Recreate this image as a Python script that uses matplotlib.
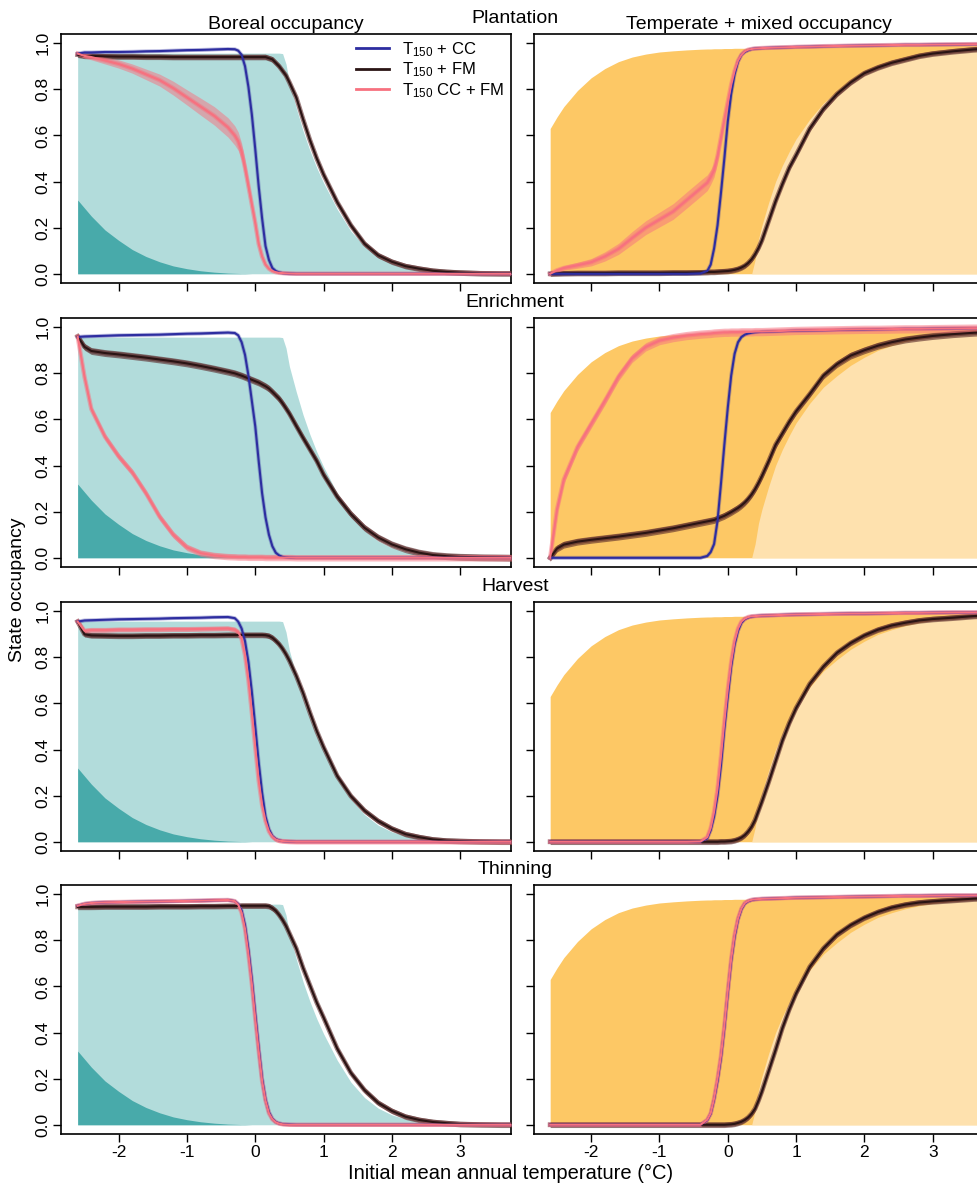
import numpy as np
import matplotlib
matplotlib.use("Agg")
import matplotlib.pyplot as plt
from matplotlib.lines import Line2D

plt.rcParams['font.family'] = ['Liberation Sans', 'DejaVu Sans']
plt.rcParams['mathtext.default'] = 'regular'

# ---------------- data ----------------
temperature = [-2.6, -2.5, -2.4, -2.2, -2.0, -1.8, -1.6, -1.4, -1.2, -1.0, -0.8, -0.6, -0.4,
               -0.3, -0.25, -0.2, -0.15, -0.1, -0.05, 0.0, 0.05, 0.1, 0.15, 0.2, 0.25, 0.3, 0.35, 0.4, 0.45, 0.5,
               0.6, 0.7, 0.8, 0.9, 1.0, 1.2, 1.4, 1.6, 1.8, 2.0, 2.2, 2.4, 2.6, 2.8, 3.0, 3.3, 3.6, 3.8]

managements = ['Plantation', 'Enrichment', 'Harvest', 'Thinning']
column_titles = ['Boreal occupancy', 'Temperate + mixed occupancy']
legend_labels = [r'T$_{150}$ + CC', r'T$_{150}$ + FM', r'T$_{150}$ CC + FM']
x_ticks = [-2, -1, 0, 1, 2, 3]
y_ticks = [0.0, 0.2, 0.4, 0.6, 0.8, 1.0]

# background occupancy (no management)
boreal_total = [
    0.957, 0.957, 0.957, 0.957, 0.957, 0.957, 0.957, 0.957, 0.957, 0.957, 0.957, 0.957, 0.957,
    0.957, 0.957, 0.957, 0.957, 0.957, 0.957, 0.957, 0.957, 0.957, 0.957, 0.957, 0.957, 0.957, 0.957, 0.955, 0.91, 0.83,
    0.72, 0.62, 0.535, 0.46, 0.395, 0.28, 0.185, 0.118, 0.072, 0.043, 0.025, 0.014, 0.008, 0.004, 0.002, 0.001, 0.0, 0.0]
boreal_dark = [
    0.32, 0.285, 0.25, 0.19, 0.145, 0.105, 0.075, 0.052, 0.034, 0.022, 0.013, 0.007, 0.003,
    0.002, 0.0015, 0.001, 0.001, 0.0005, 0.0, 0.0, 0.0, 0.0, 0.0, 0.0, 0.0, 0.0, 0.0, 0.0, 0.0, 0.0,
    0.0, 0.0, 0.0, 0.0, 0.0, 0.0, 0.0, 0.0, 0.0, 0.0, 0.0, 0.0, 0.0, 0.0, 0.0, 0.0, 0.0, 0.0]
temperate_total = [
    0.63, 0.68, 0.725, 0.795, 0.85, 0.89, 0.92, 0.94, 0.953, 0.962, 0.967, 0.971, 0.974,
    0.975, 0.975, 0.976, 0.976, 0.976, 0.977, 0.977, 0.977, 0.978, 0.978, 0.978, 0.978, 0.979, 0.979, 0.979, 0.979, 0.98,
    0.98, 0.981, 0.981, 0.982, 0.982, 0.983, 0.984, 0.985, 0.986, 0.987, 0.988, 0.989, 0.99, 0.99, 0.991, 0.992, 0.993, 0.993]
temperate_only = [
    0.0, 0.0, 0.0, 0.0, 0.0, 0.0, 0.0, 0.0, 0.0, 0.0, 0.0, 0.0, 0.0,
    0.0, 0.0, 0.0, 0.0, 0.0, 0.0, 0.0, 0.0, 0.0, 0.0, 0.0, 0.0, 0.0, 0.0, 0.06, 0.15, 0.21,
    0.31, 0.40, 0.47, 0.53, 0.585, 0.67, 0.74, 0.79, 0.835, 0.87, 0.9, 0.92, 0.937, 0.95, 0.96, 0.97, 0.977, 0.98]

# ---- Plantation ----
plantation_boreal_cc = [
    0.955, 0.96, 0.96, 0.962, 0.962, 0.963, 0.965, 0.966, 0.968, 0.97, 0.971, 0.973, 0.975,
    0.974, 0.968, 0.95, 0.90, 0.81, 0.69, 0.54, 0.38, 0.24, 0.12, 0.06, 0.025, 0.012, 0.006, 0.003, 0.002, 0.001,
    0.0, 0.0, 0.0, 0.0, 0.0, 0.0, 0.0, 0.0, 0.0, 0.0, 0.0, 0.0, 0.0, 0.0, 0.0, 0.0, 0.0, 0.0]
plantation_boreal_fm = [
    0.95, 0.945, 0.945, 0.943, 0.942, 0.942, 0.941, 0.941, 0.94, 0.94, 0.94, 0.94, 0.94,
    0.94, 0.94, 0.94, 0.94, 0.94, 0.94, 0.94, 0.94, 0.94, 0.94, 0.935, 0.93, 0.915, 0.90, 0.88, 0.86, 0.83,
    0.765, 0.67, 0.58, 0.50, 0.43, 0.31, 0.21, 0.13, 0.08, 0.052, 0.033, 0.022, 0.013, 0.008, 0.005, 0.002, 0.001, 0.001]
plantation_boreal_ccfm = [
    0.955, 0.945, 0.94, 0.925, 0.91, 0.89, 0.865, 0.84, 0.805, 0.765, 0.725, 0.685, 0.635,
    0.60, 0.575, 0.53, 0.46, 0.38, 0.30, 0.22, 0.13, 0.075, 0.04, 0.022, 0.012, 0.007, 0.004, 0.003, 0.002, 0.001,
    0.0, 0.0, 0.0, 0.0, 0.0, 0.0, 0.0, 0.0, 0.0, 0.0, 0.0, 0.0, 0.0, 0.0, 0.0, 0.0, 0.0, 0.0]
plantation_temperate_cc = [
    0.0, 0.0, 0.0, 0.0, 0.0, 0.0, 0.0, 0.0, 0.0, 0.0, 0.0, 0.0, 0.002,
    0.012, 0.04, 0.11, 0.21, 0.35, 0.50, 0.66, 0.78, 0.865, 0.92, 0.95, 0.963, 0.97, 0.975, 0.977, 0.978, 0.979,
    0.98, 0.981, 0.982, 0.983, 0.984, 0.985, 0.987, 0.988, 0.989, 0.99, 0.991, 0.992, 0.993, 0.993, 0.994, 0.995, 0.996, 0.996]
plantation_temperate_fm = [
    0.0, 0.001, 0.002, 0.003, 0.003, 0.003, 0.004, 0.004, 0.004, 0.004, 0.005, 0.005, 0.006,
    0.007, 0.008, 0.008, 0.009, 0.01, 0.011, 0.012, 0.014, 0.017, 0.021, 0.027, 0.035, 0.047, 0.063, 0.085, 0.112, 0.145,
    0.23, 0.315, 0.39, 0.46, 0.515, 0.63, 0.715, 0.78, 0.83, 0.87, 0.895, 0.915, 0.93, 0.945, 0.955, 0.965, 0.973, 0.977]
plantation_temperate_ccfm = [
    0.0, 0.015, 0.025, 0.037, 0.05, 0.075, 0.108, 0.155, 0.2, 0.235, 0.27, 0.32, 0.37,
    0.395, 0.42, 0.45, 0.51, 0.59, 0.67, 0.745, 0.82, 0.88, 0.925, 0.95, 0.965, 0.972, 0.975, 0.977, 0.978, 0.979,
    0.98, 0.981, 0.982, 0.983, 0.984, 0.985, 0.987, 0.988, 0.989, 0.99, 0.991, 0.992, 0.993, 0.993, 0.994, 0.995, 0.996, 0.996]

# ---- Enrichment ----
enrichment_boreal_cc = [
    0.958, 0.96, 0.961, 0.963, 0.965, 0.966, 0.967, 0.968, 0.97, 0.972, 0.973, 0.975, 0.977,
    0.975, 0.965, 0.935, 0.88, 0.79, 0.68, 0.57, 0.42, 0.28, 0.175, 0.1, 0.05, 0.022, 0.01, 0.004, 0.002, 0.001,
    0.0, 0.0, 0.0, 0.0, 0.0, 0.0, 0.0, 0.0, 0.0, 0.0, 0.0, 0.0, 0.0, 0.0, 0.0, 0.0, 0.0, 0.0]
enrichment_boreal_fm = [
    0.96, 0.915, 0.897, 0.888, 0.882, 0.875, 0.868, 0.86, 0.852, 0.843, 0.832, 0.82, 0.807,
    0.80, 0.795, 0.79, 0.784, 0.778, 0.772, 0.766, 0.76, 0.752, 0.744, 0.734, 0.72, 0.705, 0.69, 0.67, 0.648, 0.625,
    0.572, 0.52, 0.47, 0.42, 0.36, 0.265, 0.19, 0.13, 0.088, 0.058, 0.037, 0.022, 0.012, 0.007, 0.004, 0.002, 0.001, 0.0]
enrichment_boreal_ccfm = [
    0.96, 0.785, 0.645, 0.525, 0.44, 0.37, 0.28, 0.178, 0.1, 0.045, 0.02, 0.01, 0.005,
    0.004, 0.003, 0.003, 0.003, 0.002, 0.002, 0.002, 0.002, 0.002, 0.001, 0.001, 0.001, 0.001, 0.001, 0.001, 0.001, 0.001,
    0.0, 0.0, 0.0, 0.0, 0.0, 0.0, 0.0, 0.0, 0.0, 0.0, 0.0, 0.0, 0.0, 0.0, 0.0, 0.0, 0.0, 0.0]
enrichment_temperate_cc = [
    0.0, 0.0, 0.0, 0.0, 0.0, 0.0, 0.0, 0.0, 0.0, 0.0, 0.0, 0.0, 0.0,
    0.008, 0.025, 0.06, 0.16, 0.32, 0.49, 0.65, 0.79, 0.885, 0.935, 0.958, 0.968, 0.973, 0.976, 0.978, 0.979, 0.98,
    0.981, 0.982, 0.983, 0.984, 0.985, 0.986, 0.987, 0.988, 0.989, 0.99, 0.991, 0.992, 0.993, 0.993, 0.994, 0.995, 0.996, 0.996]
enrichment_temperate_fm = [
    0.0, 0.04, 0.057, 0.07, 0.078, 0.085, 0.092, 0.1, 0.108, 0.118, 0.128, 0.14, 0.152,
    0.158, 0.161, 0.164, 0.17, 0.176, 0.182, 0.19, 0.198, 0.207, 0.216, 0.227, 0.24, 0.256, 0.275, 0.298, 0.325, 0.355,
    0.42, 0.49, 0.54, 0.59, 0.635, 0.71, 0.79, 0.84, 0.877, 0.9, 0.92, 0.935, 0.947, 0.955, 0.962, 0.97, 0.976, 0.979]
enrichment_temperate_ccfm = [
    0.0, 0.21, 0.34, 0.48, 0.58, 0.68, 0.785, 0.865, 0.915, 0.942, 0.955, 0.964, 0.97,
    0.972, 0.973, 0.975, 0.976, 0.977, 0.978, 0.978, 0.979, 0.979, 0.979, 0.98, 0.98, 0.98, 0.98, 0.981, 0.981, 0.981,
    0.982, 0.983, 0.984, 0.985, 0.986, 0.987, 0.988, 0.989, 0.99, 0.991, 0.991, 0.992, 0.993, 0.993, 0.994, 0.995, 0.996, 0.996]

# ---- Harvest ----
harvest_boreal_cc = [
    0.955, 0.96, 0.961, 0.963, 0.965, 0.966, 0.967, 0.968, 0.97, 0.971, 0.972, 0.974, 0.975,
    0.97, 0.955, 0.925, 0.87, 0.78, 0.65, 0.50, 0.345, 0.213, 0.11, 0.055, 0.025, 0.012, 0.006, 0.003, 0.002, 0.001,
    0.0, 0.0, 0.0, 0.0, 0.0, 0.0, 0.0, 0.0, 0.0, 0.0, 0.0, 0.0, 0.0, 0.0, 0.0, 0.0, 0.0, 0.0]
harvest_boreal_fm = [
    0.955, 0.90, 0.895, 0.894, 0.893, 0.893, 0.894, 0.894, 0.895, 0.895, 0.896, 0.896, 0.897,
    0.897, 0.897, 0.897, 0.897, 0.897, 0.897, 0.897, 0.897, 0.897, 0.896, 0.893, 0.885, 0.872, 0.857, 0.837, 0.813, 0.785,
    0.72, 0.645, 0.56, 0.48, 0.41, 0.285, 0.198, 0.135, 0.09, 0.057, 0.033, 0.02, 0.01, 0.005, 0.003, 0.001, 0.0, 0.0]
harvest_boreal_ccfm = [
    0.955, 0.915, 0.918, 0.918, 0.92, 0.92, 0.921, 0.921, 0.922, 0.922, 0.923, 0.924, 0.925,
    0.92, 0.91, 0.88, 0.81, 0.70, 0.56, 0.41, 0.265, 0.16, 0.09, 0.045, 0.022, 0.01, 0.005, 0.003, 0.002, 0.001,
    0.0, 0.0, 0.0, 0.0, 0.0, 0.0, 0.0, 0.0, 0.0, 0.0, 0.0, 0.0, 0.0, 0.0, 0.0, 0.0, 0.0, 0.0]
harvest_temperate_cc = [
    0.0, 0.0, 0.0, 0.0, 0.0, 0.0, 0.0, 0.0, 0.0, 0.0, 0.0, 0.0, 0.0,
    0.015, 0.05, 0.11, 0.2, 0.33, 0.49, 0.63, 0.76, 0.855, 0.915, 0.95, 0.966, 0.973, 0.977, 0.979, 0.98, 0.981,
    0.982, 0.983, 0.984, 0.985, 0.986, 0.987, 0.988, 0.989, 0.99, 0.99, 0.991, 0.992, 0.993, 0.993, 0.994, 0.995, 0.995, 0.996]
harvest_temperate_fm = [
    0.0, 0.0, 0.0, 0.0, 0.0, 0.0, 0.0, 0.0, 0.0, 0.0, 0.0, 0.0, 0.0,
    0.0, 0.0, 0.0, 0.0, 0.001, 0.001, 0.002, 0.003, 0.006, 0.011, 0.018, 0.029, 0.045, 0.066, 0.095, 0.135, 0.175,
    0.26, 0.35, 0.44, 0.515, 0.58, 0.685, 0.76, 0.82, 0.862, 0.895, 0.92, 0.938, 0.95, 0.96, 0.966, 0.972, 0.979, 0.982]
harvest_temperate_ccfm = [
    0.0, 0.0, 0.0, 0.0, 0.0, 0.0, 0.0, 0.0, 0.0, 0.0, 0.0, 0.0, 0.001,
    0.02, 0.06, 0.13, 0.23, 0.37, 0.52, 0.66, 0.78, 0.87, 0.925, 0.955, 0.968, 0.975, 0.978, 0.979, 0.98, 0.981,
    0.982, 0.983, 0.984, 0.985, 0.986, 0.987, 0.988, 0.989, 0.99, 0.99, 0.991, 0.992, 0.993, 0.993, 0.994, 0.995, 0.995, 0.996]

# ---- Thinning ----
thinning_boreal_cc = [
    0.95, 0.958, 0.962, 0.965, 0.966, 0.967, 0.968, 0.969, 0.97, 0.971, 0.972, 0.974, 0.975,
    0.97, 0.958, 0.93, 0.865, 0.76, 0.63, 0.48, 0.335, 0.2, 0.11, 0.055, 0.026, 0.012, 0.006, 0.003, 0.002, 0.001,
    0.0, 0.0, 0.0, 0.0, 0.0, 0.0, 0.0, 0.0, 0.0, 0.0, 0.0, 0.0, 0.0, 0.0, 0.0, 0.0, 0.0, 0.0]
thinning_boreal_fm = [
    0.945, 0.945, 0.945, 0.946, 0.946, 0.946, 0.946, 0.947, 0.947, 0.947, 0.948, 0.948, 0.949,
    0.949, 0.949, 0.95, 0.95, 0.95, 0.95, 0.95, 0.95, 0.95, 0.95, 0.948, 0.94, 0.928, 0.91, 0.888, 0.862, 0.83,
    0.765, 0.68, 0.605, 0.53, 0.465, 0.33, 0.225, 0.15, 0.095, 0.06, 0.035, 0.021, 0.012, 0.007, 0.003, 0.001, 0.0, 0.0]
thinning_boreal_ccfm = [
    0.95, 0.958, 0.962, 0.965, 0.966, 0.967, 0.968, 0.969, 0.97, 0.971, 0.972, 0.974, 0.975,
    0.97, 0.955, 0.92, 0.85, 0.74, 0.61, 0.46, 0.32, 0.19, 0.105, 0.05, 0.024, 0.011, 0.005, 0.002, 0.001, 0.0,
    0.0, 0.0, 0.0, 0.0, 0.0, 0.0, 0.0, 0.0, 0.0, 0.0, 0.0, 0.0, 0.0, 0.0, 0.0, 0.0, 0.0, 0.0]
thinning_temperate_cc = [
    0.0, 0.0, 0.0, 0.0, 0.0, 0.0, 0.0, 0.0, 0.0, 0.0, 0.0, 0.0, 0.0,
    0.02, 0.048, 0.11, 0.19, 0.29, 0.42, 0.57, 0.71, 0.815, 0.89, 0.935, 0.96, 0.97, 0.975, 0.978, 0.979, 0.98,
    0.981, 0.982, 0.983, 0.984, 0.985, 0.986, 0.987, 0.988, 0.989, 0.99, 0.991, 0.992, 0.993, 0.993, 0.994, 0.995, 0.995, 0.996]
thinning_temperate_fm = [
    0.0, 0.0, 0.0, 0.0, 0.0, 0.0, 0.0, 0.0, 0.0, 0.0, 0.0, 0.0, 0.0,
    0.0, 0.0, 0.0, 0.0, 0.0, 0.0, 0.001, 0.002, 0.004, 0.008, 0.013, 0.021, 0.032, 0.048, 0.07, 0.105, 0.145,
    0.235, 0.325, 0.42, 0.5, 0.57, 0.685, 0.765, 0.825, 0.866, 0.898, 0.923, 0.942, 0.955, 0.964, 0.969, 0.975, 0.981, 0.983]
thinning_temperate_ccfm = [
    0.0, 0.0, 0.0, 0.0, 0.0, 0.0, 0.0, 0.0, 0.0, 0.0, 0.0, 0.0, 0.0,
    0.022, 0.05, 0.115, 0.2, 0.3, 0.43, 0.58, 0.72, 0.825, 0.895, 0.938, 0.962, 0.971, 0.976, 0.978, 0.979, 0.98,
    0.981, 0.982, 0.983, 0.984, 0.985, 0.986, 0.987, 0.988, 0.989, 0.99, 0.991, 0.992, 0.993, 0.993, 0.994, 0.995, 0.995, 0.996]

# confidence band half-widths
plantation_boreal_ccfm_band = [
    0.005, 0.01, 0.012, 0.015, 0.018, 0.02, 0.023, 0.026, 0.03, 0.033, 0.037, 0.04, 0.042,
    0.042, 0.04, 0.037, 0.033, 0.028, 0.022, 0.017, 0.012, 0.008, 0.006, 0.004, 0.003, 0.003, 0.003, 0.003, 0.003, 0.003,
    0.003, 0.003, 0.003, 0.003, 0.003, 0.003, 0.003, 0.003, 0.003, 0.003, 0.003, 0.003, 0.003, 0.003, 0.003, 0.003, 0.003, 0.003]
plantation_temperate_ccfm_band = [
    0.003, 0.008, 0.01, 0.013, 0.016, 0.02, 0.024, 0.028, 0.03, 0.032, 0.034, 0.035, 0.035,
    0.034, 0.032, 0.03, 0.028, 0.025, 0.02, 0.015, 0.012, 0.008, 0.006, 0.004, 0.003, 0.003, 0.003, 0.003, 0.003, 0.003,
    0.003, 0.003, 0.003, 0.003, 0.003, 0.003, 0.003, 0.003, 0.003, 0.003, 0.003, 0.003, 0.003, 0.003, 0.003, 0.003, 0.003, 0.003]
cc_band = 0.005
fm_band = {'Plantation': 0.012, 'Enrichment': 0.015, 'Harvest': 0.012, 'Thinning': 0.012}
ccfm_band = {'Plantation': (plantation_boreal_ccfm_band, plantation_temperate_ccfm_band),
             'Enrichment': (0.014, 0.018), 'Harvest': (0.01, 0.006), 'Thinning': (0.006, 0.006)}

series = {
    'Plantation': ((plantation_boreal_cc, plantation_boreal_fm, plantation_boreal_ccfm),
                   (plantation_temperate_cc, plantation_temperate_fm, plantation_temperate_ccfm)),
    'Enrichment': ((enrichment_boreal_cc, enrichment_boreal_fm, enrichment_boreal_ccfm),
                   (enrichment_temperate_cc, enrichment_temperate_fm, enrichment_temperate_ccfm)),
    'Harvest': ((harvest_boreal_cc, harvest_boreal_fm, harvest_boreal_ccfm),
                (harvest_temperate_cc, harvest_temperate_fm, harvest_temperate_ccfm)),
    'Thinning': ((thinning_boreal_cc, thinning_boreal_fm, thinning_boreal_ccfm),
                 (thinning_temperate_cc, thinning_temperate_fm, thinning_temperate_ccfm)),
}

# ---------------- style ----------------
TEAL_LIGHT = '#B2DCDB'
TEAL_DARK = '#48AAAA'
ORANGE = '#FDC865'
ORANGE_LIGHT = '#FEE1AE'
CC_COLOR = '#2D2DA0'
FM_COLOR = '#2A1414'
FM_BAND = '#5A2A2A'
CCFM_COLOR = '#F7717F'

W, H = 977, 1184
fig = plt.figure(figsize=(W / 100, H / 100), dpi=100)

x = np.asarray(temperature)

row_tops = [34, 318, 602, 885]
panel_h = 249
panel_w = 450
col_lefts = [61, 533.5]


def draw_series(ax, y, w, color, band_color, alpha, halo):
    y = np.asarray(y, float)
    w = np.broadcast_to(np.asarray(w, float), y.shape)
    ax.fill_between(x, y - w, y + w, color=band_color, alpha=alpha, lw=0, zorder=3)
    ax.plot(x, y, color=band_color, alpha=alpha, lw=halo, zorder=3, solid_joinstyle='round')
    ax.plot(x, y, color=color, lw=1.5, zorder=4, solid_joinstyle='round')


for r, mgmt in enumerate(managements):
    top = row_tops[r]
    bottom = 1 - (top + panel_h) / H
    for c in range(2):
        ax = fig.add_axes([col_lefts[c] / W, bottom, panel_w / W, panel_h / H])
        ax.set_xlim(-2.844, 3.744)
        ax.set_ylim(-0.04, 1.04)
        if c == 0:
            ax.fill_between(x, 0, boreal_total, color=TEAL_LIGHT, lw=0, zorder=1)
            ax.fill_between(x, 0, boreal_dark, color=TEAL_DARK, lw=0, zorder=2)
        else:
            ax.fill_between(x, 0, temperate_total, color=ORANGE, lw=0, zorder=1)
            ax.fill_between(x, 0, temperate_only, color=ORANGE_LIGHT, lw=0, zorder=2)
        cc, fm, ccfm = series[mgmt][c]
        draw_series(ax, fm, fm_band[mgmt], FM_COLOR, FM_BAND, 0.6, 3.4)
        draw_series(ax, cc, cc_band, CC_COLOR, CC_COLOR, 0.3, 2.8)
        draw_series(ax, ccfm, ccfm_band[mgmt][c], CCFM_COLOR, CCFM_COLOR, 0.5, 3.2)

        ax.set_xticks(x_ticks)
        ax.set_yticks(y_ticks)
        ax.tick_params(direction='out', length=5.5, width=1.0, labelsize=12.5, colors='black')
        if c == 0:
            ax.set_yticklabels(['%.1f' % v for v in y_ticks], rotation=90, va='center')
            ax.tick_params(axis='y', pad=2)
        else:
            ax.set_yticklabels([])
        if r == len(managements) - 1:
            ax.set_xticklabels([str(v) for v in x_ticks])
            ax.tick_params(axis='x', pad=2.5)
        else:
            ax.set_xticklabels([])
        for sp in ax.spines.values():
            sp.set_linewidth(1.2)
            sp.set_color('black')

        if r == 0:
            fig.text((col_lefts[c] + panel_w / 2) / W, 1 - (top - 5) / H, column_titles[c],
                     ha='center', va='baseline', fontsize=14)
        if r == 0 and c == 0:
            handles = [Line2D([], [], color=CC_COLOR, lw=2),
                       Line2D([], [], color=FM_COLOR, lw=2),
                       Line2D([], [], color=CCFM_COLOR, lw=2)]
            ax.legend(handles, legend_labels, loc='upper left', bbox_to_anchor=(0.655, 0.975),
                      frameon=False, fontsize=12, handlelength=2.0, handletextpad=0.8,
                      labelspacing=0.1, borderpad=0, borderaxespad=0)

    fig.text(515 / W, 1 - (top - 11) / H, mgmt, ha='center', va='baseline', fontsize=14)

fig.text(18 / W, 1 - 590 / H, 'State occupancy', rotation=90, ha='center', va='center', fontsize=14)
fig.text(511 / W, 1 - 1179 / H, 'Initial mean annual temperature (°C)', ha='center', va='baseline', fontsize=14.5)

fig.savefig('out.png', dpi=100)
